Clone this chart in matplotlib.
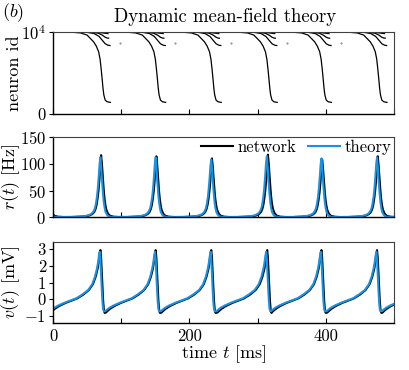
import numpy as np
import matplotlib
matplotlib.use('Agg')
import matplotlib.pyplot as plt

plt.rcParams['font.family'] = 'cmr10'
plt.rcParams['mathtext.fontset'] = 'cm'
plt.rcParams['axes.formatter.use_mathtext'] = True

# peak times of the population bursts [ms] (first and last lie outside the window)
peaks_net = [-11, 70.5, 151.5, 233, 315, 394.5, 476, 557]
peaks_th = [-12, 69.5, 150.5, 232, 313.5, 393.5, 475, 556]

# rate peaks [Hz]
r_peak_net = [115, 116, 114, 110, 117, 108, 114, 115]
r_peak_th = [112, 112, 112, 108, 114, 110, 112, 112]

# rate shape around a peak (phase in ms relative to the peak)
r_phase = [-40, -30, -22, -17, -13, -10, -8, -6.5, -5, -3.8, -2.5, -1.2, 0, 1.2, 2.5, 3.8, 5, 6.3, 7.5, 10, 13, 18, 26, 40]
r_shape_net = [0.7, 1.2, 2, 3.5, 6, 10, 16, 24, 37, 50, 70, 95, 116, 100, 75, 52, 35, 23, 15, 7, 3, 1.2, 0.6, 0.6]
r_shape_th = [0.8, 1.4, 2.4, 4, 6.5, 11, 17, 26, 39, 54, 75, 100, 112, 92, 66, 44, 28, 17, 10, 4, 1.5, 0.6, 0.4, 0.5]

# mean voltage shape over one cycle [mV]
v_phase = [-74, -72, -68, -62, -52, -43, -35, -26, -18, -12, -8, -5, -3.5, -2, -1, 0, 1, 2, 3, 4, 5, 5.5]
v_shape_net = [-0.8, -0.72, -0.58, -0.42, -0.22, -0.08, 0.05, 0.28, 0.55, 0.9, 1.35, 1.85, 2.25, 2.75, 2.95,
               2.5, 1.6, 0.7, -0.1, -0.6, -0.8, -0.82]
v_shape_th = [-0.72, -0.65, -0.52, -0.38, -0.2, -0.06, 0.06, 0.3, 0.55, 0.9, 1.35, 1.85, 2.2, 2.65, 2.85,
              2.4, 1.5, 0.6, -0.15, -0.6, -0.72, -0.72]

# raster: spike fronts (phase [ms], neuron id) for one burst
front_main_phase = [-40, -30, -20.6, -11, -7, -3.6, -1.5, 0, 1.5, 2.8, 4, 6, 9, 13.6]
front_main_id = [10000, 9930, 9670, 8840, 8300, 7610, 6700, 5570, 4300, 3100, 2300, 1660, 1450, 1380]
front_a_phase = [-20, -10, -3, 2, 6, 10, 13]
front_a_id = [10000, 9850, 9500, 9000, 8600, 8420, 8380]
front_b_phase = [-12, -4, 2, 6, 9, 11]
front_b_id = [10000, 9900, 9650, 9400, 9300, 9280]
front_c_phase = [-10, 0, 5, 10]
front_c_id = [10000, 9960, 9900, 9850]
stray_phase = [28]
stray_id = [8650]


def build(peaks, phase, shape, heights=None):
    ts, ys = [], []
    shape = np.asarray(shape, dtype=float)
    for i, tp in enumerate(peaks):
        s = shape
        if heights is not None:
            s = shape * heights[i] / shape.max()
        ts.append(tp + np.asarray(phase))
        ys.append(s)
    return np.concatenate(ts), np.concatenate(ys)


blue = '#1593e6'

fig = plt.figure(figsize=(4.09, 3.70), dpi=100)
x0, w = 0.1296, 0.834
ax1 = fig.add_axes([x0, 0.693, w, 0.2195])
ax2 = fig.add_axes([x0, 0.4127, w, 0.217])
ax3 = fig.add_axes([x0, 0.126, w, 0.2205])

# raster
for tp in peaks_net[1:-1]:
    for ph, ids in [(front_main_phase, front_main_id), (front_a_phase, front_a_id),
                    (front_b_phase, front_b_id), (front_c_phase, front_c_id)]:
        ax1.plot(tp + np.asarray(ph), ids, color='k', lw=0.9)
    ax1.plot(tp + np.asarray(stray_phase), stray_id, '.', color='0.4', ms=0.8)
ax1.set_ylim(0, 10000)
ax1.set_yticks([0, 10000])
ax1.set_yticklabels(['0', r'$10^4$'])
ax1.set_ylabel('neuron id', fontsize=13)

# rates
t, r = build(peaks_net, r_phase, r_shape_net, r_peak_net)
ax2.plot(t, r, color='k', lw=1.5, label='network')
t, r = build(peaks_th, r_phase, r_shape_th, r_peak_th)
ax2.plot(t, r, color=blue, lw=1.5, label='theory')
ax2.set_ylim(0, 150)
ax2.set_yticks([0, 50, 100, 150])
ax2.set_ylabel(r'$r(t)$ [Hz]', fontsize=13)
ax2.legend(loc='upper right', frameon=False, fontsize=12, handlelength=1.9,
           handletextpad=0.3, columnspacing=0.7, ncol=2, borderaxespad=0.0,
           borderpad=0.15)

# voltage
t, v = build(peaks_net, v_phase, v_shape_net)
ax3.plot(t, v, color='k', lw=1.5)
t, v = build(peaks_th, v_phase, v_shape_th)
ax3.plot(t, v, color=blue, lw=1.5)
ax3.set_ylim(-1.45, 3.45)
ax3.set_yticks([-1, 0, 1, 2, 3])
ax3.set_yticklabels([r'$-1$', '0', '1', '2', '3'])
ax3.set_ylabel(r'$v(t)$ [mV]', fontsize=13)
ax3.set_xlabel(r'time $t$ [ms]', fontsize=13, labelpad=0)

for ax in (ax1, ax2, ax3):
    ax.set_xlim(0, 500)
    ax.set_xticks([0, 100, 200, 300, 400, 500])
    if ax is ax3:
        ax.set_xticklabels(['0', '', '200', '', '400', ''])
    else:
        ax.set_xticklabels([])
    ax.tick_params(axis='x', direction='in', length=3.5, width=0.8, labelsize=12)
    ax.tick_params(axis='y', direction='out', length=3, width=0.8, labelsize=12, pad=2)
    ax.yaxis.set_label_coords(-0.092, 0.5)
    for side in ('left', 'bottom'):
        ax.spines[side].set_linewidth(1.0)
    for side in ('top', 'right'):
        ax.spines[side].set_linewidth(0.8)
        ax.spines[side].set_color('0.25')

fig.text(0.55, 0.955, 'Dynamic mean-field theory', ha='center', va='center', fontsize=13.5)
fig.text(0.005, 0.965, r'$(b)$', ha='left', va='center', fontsize=13)

fig.savefig('out.png', dpi=100)
